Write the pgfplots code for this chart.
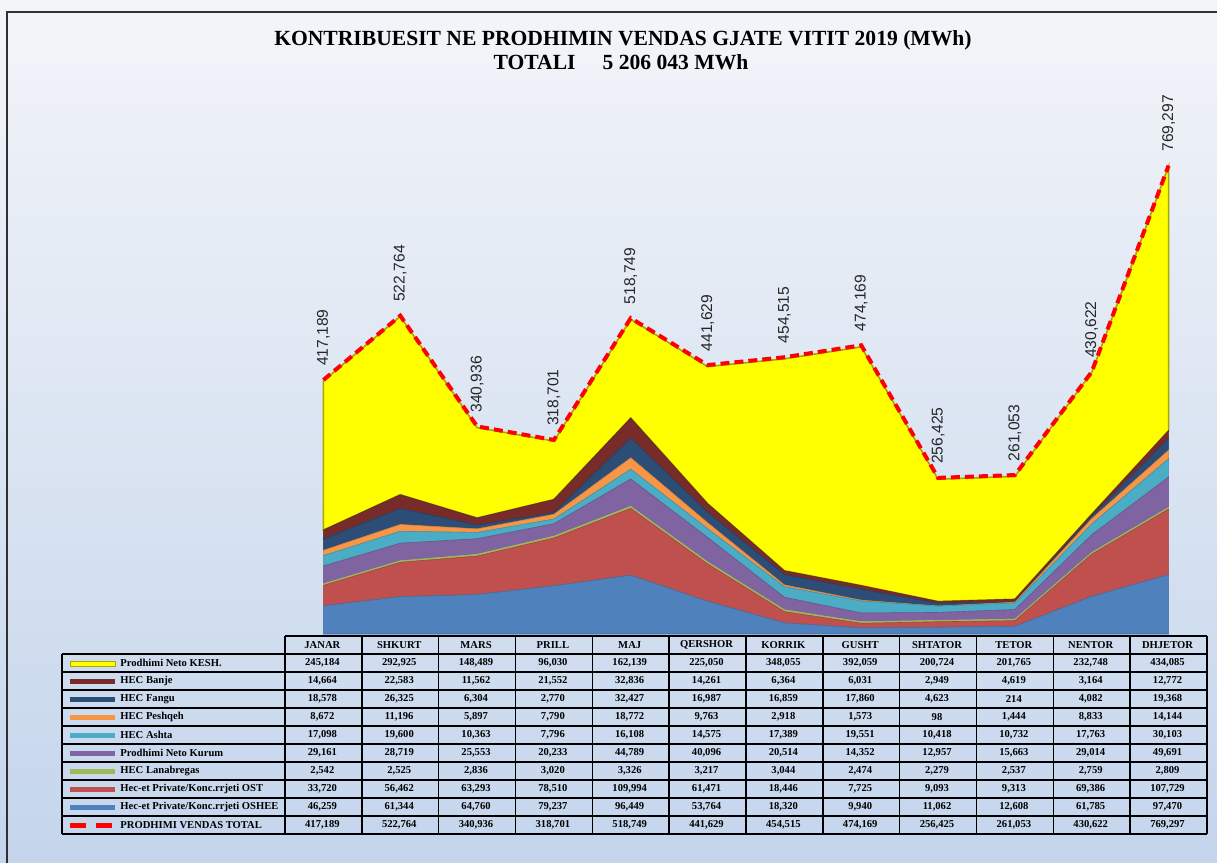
\documentclass[border=0pt]{standalone}
\usepackage{fontspec}
\setmainfont{Liberation Serif}
\newfontfamily\arial{Liberation Sans}
\usepackage{pgfplots}
\usepackage{pgfplotstable}
\pgfplotsset{compat=1.18}

\definecolor{bgtop}{HTML}{F3F5F9}
\definecolor{bgbot}{HTML}{C4D5EC}
\definecolor{framec}{HTML}{303030}
\definecolor{coshee}{HTML}{4F81BD}
\definecolor{cost}{HTML}{C0504D}
\definecolor{clana}{HTML}{9BBB59}
\definecolor{ckurum}{HTML}{8064A2}
\definecolor{cashta}{HTML}{4BACC6}
\definecolor{cpeshq}{HTML}{F79646}
\definecolor{cfangu}{HTML}{2C4D75}
\definecolor{cbanje}{HTML}{772C2A}
\definecolor{ckesh}{HTML}{FFFF00}
\definecolor{ckeshd}{HTML}{A8A800}
\definecolor{ctotal}{HTML}{FF0000}
\definecolor{labelc}{HTML}{262626}

\pgfplotstableread{
x kesh banje fangu peshq ashta kurum lana ost oshee total
0 245184 14664 18578 8672 17098 29161 2542 33720 46259 417189
1 292925 22583 26325 11196 19600 28719 2525 56462 61344 522764
2 148489 11562 6304 5897 10363 25553 2836 63293 64760 340936
3 96030 21552 2770 7790 7796 20233 3020 78510 79237 318701
4 162139 32836 32427 18772 16108 44789 3326 109994 96449 518749
5 225050 14261 16987 9763 14575 40096 3217 61471 53764 441629
6 348055 6364 16859 2918 17389 20514 3044 18446 18320 454515
7 392059 6031 17860 1573 19551 14352 2474 7725 9940 474169
8 200724 2949 4623 98 10418 12957 2279 9093 11062 256425
9 201765 4619 214 1444 10732 15663 2537 9313 12608 261053
10 232748 3164 4082 8833 17763 29014 2759 69386 61785 430622
11 434085 12772 19368 14144 30103 49691 2809 107729 97470 769297
}\data

\begin{document}
\begin{tikzpicture}
\pgfkeys{/pgf/number format/.cd,fixed,precision=0,1000 sep={,},assume math mode=true}
% background, frame, title
\begin{scope}[x=0.5pt,y=-0.5pt]
  \shade[top color=bgtop,bottom color=bgbot] (0,0) rectangle (1217,863);
  \draw[line width=1pt,framec] (7,863) -- (7,12) -- (1217,12);
  \node[font=\bfseries\fontsize{10.8}{12}\selectfont] at (623,40) {KONTRIBUESIT NE PRODHIMIN VENDAS GJATE VITIT 2019 (MWh)};
  \node[font=\bfseries\fontsize{10.8}{12}\selectfont] at (621,62) {TOTALI\quad\ 5 206 043 MWh};
\end{scope}

% stacked areas
\begin{axis}[at={(142.5pt,-317pt)},anchor=south west,scale only axis,
  width=461pt,height=274pt,xmin=-0.5,xmax=11.5,ymin=0,ymax=900000,
  hide axis,clip=false,stack plots=y]
  \addplot[fill=coshee,draw=coshee!85!black,line width=0.3pt] table[x=x,y=oshee]{\data} \closedcycle;
  \addplot[fill=cost,draw=cost!85!black,line width=0.3pt] table[x=x,y=ost]{\data} \closedcycle;
  \addplot[fill=clana,draw=clana,line width=0.3pt] table[x=x,y=lana]{\data} \closedcycle;
  \addplot[fill=ckurum,draw=ckurum!85!black,line width=0.3pt] table[x=x,y=kurum]{\data} \closedcycle;
  \addplot[fill=cashta,draw=cashta!85!black,line width=0.3pt] table[x=x,y=ashta]{\data} \closedcycle;
  \addplot[fill=cpeshq,draw=cpeshq!85!black,line width=0.3pt] table[x=x,y=peshq]{\data} \closedcycle;
  \addplot[fill=cfangu,draw=cfangu!85!black,line width=0.3pt] table[x=x,y=fangu]{\data} \closedcycle;
  \addplot[fill=cbanje,draw=cbanje!85!black,line width=0.3pt] table[x=x,y=banje]{\data} \closedcycle;
  \addplot[fill=ckesh,draw=ckeshd,line width=0.8pt] table[x=x,y=kesh]{\data} \closedcycle;
\end{axis}

% total line with labels
\begin{axis}[at={(142.5pt,-317pt)},anchor=south west,scale only axis,
  width=461pt,height=274pt,xmin=-0.5,xmax=11.5,ymin=0,ymax=900000,
  hide axis,clip=false,
  /pgf/number format/.cd,fixed,precision=0,1000 sep={,},assume math mode=true]
  \addplot[ctotal,line width=2pt,dash pattern=on 4.5pt off 2.5pt,
    nodes near coords,
    every node near coord/.append style={font=\arial\fontsize{7.8}{9}\selectfont,
      text=labelc,rotate=90,anchor=west,inner xsep=6pt}]
    table[x=x,y=total]{\data};
\end{axis}

% data table
\begin{scope}[x=0.5pt,y=-0.5pt,tf/.style={font=\bfseries\fontsize{5.3}{6}\selectfont,inner sep=0pt}]
  \pgfkeys{/pgf/number format/.cd,fixed,precision=0,1000 sep={,},assume math mode=true}
  % grid
  \draw[line width=0.7pt,black] (285,636) -- (1207,636);
  \foreach \k in {0,...,10} \draw[line width=0.7pt,black] (62,{654+18*\k}) -- (1207,{654+18*\k});
  \foreach \k in {0,...,12} \draw[line width=0.7pt,black] ({285+76.83*\k},636) -- ({285+76.83*\k},834);
  \draw[line width=0.7pt,black] (62,654) -- (62,834);
  % month headers
  \foreach \m [count=\i from 0] in {JANAR,SHKURT,MARS,PRILL,MAJ,QERSHOR,KORRIK,GUSHT,SHTATOR,TETOR,NENTOR,DHJETOR}
    \node[tf] at ({322.4+76.83*\i},645) {\m};
  % row labels
  \foreach \lab [count=\r from 0] in {Prodhimi Neto KESH.,HEC Banje,HEC Fangu,HEC Peshqeh,HEC Ashta,Prodhimi Neto Kurum,HEC Lanabregas,Hec-et Private/Konc.rrjeti OST,Hec-et Private/Konc.rrjeti OSHEE,PRODHIMI VENDAS TOTAL}
    \node[tf,anchor=west] at (120,{663+18*\r}) {\lab};
  % legend keys
  \fill[ckesh,draw=ckeshd,line width=0.4pt] (70,661) rectangle (115,666);
  \fill[cbanje] (70,679) rectangle (115,684);
  \fill[cfangu] (70,697) rectangle (115,702);
  \fill[cpeshq] (70,715) rectangle (115,720);
  \fill[cashta] (70,733) rectangle (115,738);
  \fill[ckurum] (70,751) rectangle (115,756);
  \fill[clana] (70,769) rectangle (115,774);
  \fill[cost] (70,787) rectangle (115,792);
  \fill[coshee] (70,805) rectangle (115,810);
  \draw[ctotal,line width=2.5pt,dash pattern=on 8pt off 5pt] (70,825) -- (115,825);
  % values
  \foreach \col [count=\r from 0] in {kesh,banje,fangu,peshq,ashta,kurum,lana,ost,oshee,total} {
    \foreach \c in {0,...,11} {
      \pgfplotstablegetelem{\c}{\col}\of\data
      \node[tf] at ({322.4+76.83*\c},{663+18*\r}) {\pgfmathprintnumber{\pgfplotsretval}};
    }
  }
\end{scope}
\pgfresetboundingbox
\path[use as bounding box] (0,0) rectangle (608.5pt,-431.5pt);
\end{tikzpicture}
\end{document}
